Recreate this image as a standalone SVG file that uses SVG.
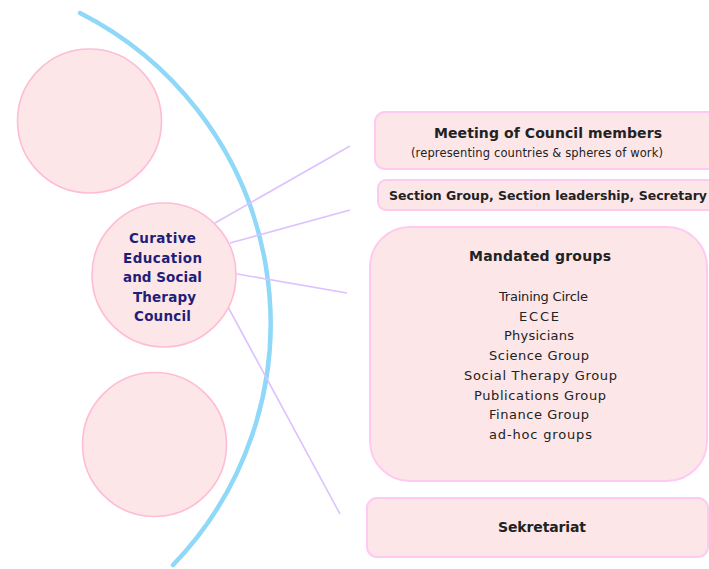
<svg xmlns="http://www.w3.org/2000/svg" width="709" height="569" viewBox="0 0 709 569">
<style>
.bg{fill:#ffffff}
.circ{fill:#fde6e8;stroke:#ffbcd6;stroke-width:1.6}
.box{fill:#fde6e8;stroke:#ffcaf2;stroke-width:2}
.arc{fill:none;stroke:#8fd8f8;stroke-width:4.5;stroke-linecap:round}
.conn{stroke:#dcc2ff;stroke-width:1.6;fill:none}
.t{font-family:"DejaVu Sans",Verdana,sans-serif;fill:#222222;text-anchor:middle}
.b{font-weight:bold}
.ct{font-family:"DejaVu Sans",Verdana,sans-serif;font-weight:bold;fill:#1f1f7a;text-anchor:middle;font-size:13.5px}
</style>
<rect class="bg" x="0" y="0" width="709" height="569"/>
<path class="arc" d="M80,13 A348,348 0 0 1 173,565"/>
<g id="connectors">
<line class="conn" x1="215" y1="223" x2="350" y2="146"/>
<line class="conn" x1="230" y1="243" x2="350" y2="210"/>
<line class="conn" x1="237" y1="274" x2="347" y2="293"/>
<line class="conn" x1="228" y1="307" x2="340" y2="514"/>
</g>
<g id="circle-top"><circle class="circ" cx="89.5" cy="121" r="72"/></g>
<g id="circle-bottom"><circle class="circ" cx="154.5" cy="444.5" r="72"/></g>
<g id="council">
<circle class="circ" cx="164" cy="275" r="72"/>
<text class="ct" x="162.5" y="243" textLength="67" lengthAdjust="spacing">Curative</text>
<text class="ct" x="162.5" y="263" textLength="79" lengthAdjust="spacing">Education</text>
<text class="ct" x="162.5" y="282" textLength="79" lengthAdjust="spacing">and Social</text>
<text class="ct" x="164.5" y="302" textLength="63" lengthAdjust="spacing">Therapy</text>
<text class="ct" x="162.5" y="321" textLength="57" lengthAdjust="spacing">Council</text>
</g>
<g id="meeting">
<rect class="box" x="375" y="112" width="345" height="57" rx="10"/>
<text class="t b" x="548" y="138" font-size="14" textLength="228" lengthAdjust="spacing">Meeting of Council members</text>
<text class="t" x="537" y="157" font-size="11.5" textLength="252" lengthAdjust="spacing">(representing countries &amp; spheres of work)</text>
</g>
<g id="section">
<rect class="box" x="378" y="180" width="342" height="30" rx="8"/>
<text class="t b" x="389" y="200" font-size="12.5" style="text-anchor:start" textLength="318" lengthAdjust="spacing">Section Group, Section leadership, Secretary</text>
</g>
<g id="mandated">
<rect class="box" x="370" y="227" width="337" height="254" rx="40"/>
<text class="t b" x="540" y="261" font-size="14" textLength="142" lengthAdjust="spacing">Mandated groups</text>
<text class="t" x="543.5" y="301" font-size="13" textLength="89" lengthAdjust="spacing">Training Circle</text>
<text class="t" x="539" y="320.5" font-size="13" textLength="40" lengthAdjust="spacing">ECCE</text>
<text class="t" x="539" y="340" font-size="13" textLength="70" lengthAdjust="spacing">Physicians</text>
<text class="t" x="539" y="360" font-size="13" textLength="100" lengthAdjust="spacing">Science Group</text>
<text class="t" x="540.5" y="380" font-size="13" textLength="153" lengthAdjust="spacing">Social Therapy Group</text>
<text class="t" x="540" y="399.5" font-size="13" textLength="132" lengthAdjust="spacing">Publications Group</text>
<text class="t" x="539" y="419" font-size="13" textLength="100" lengthAdjust="spacing">Finance Group</text>
<text class="t" x="540.5" y="439" font-size="13" textLength="103" lengthAdjust="spacing">ad-hoc groups</text>
</g>
<g id="sekretariat">
<rect class="box" x="367" y="498" width="341" height="59" rx="10"/>
<text class="t b" x="542" y="532" font-size="14" textLength="88" lengthAdjust="spacing">Sekretariat</text>
</g>
</svg>
